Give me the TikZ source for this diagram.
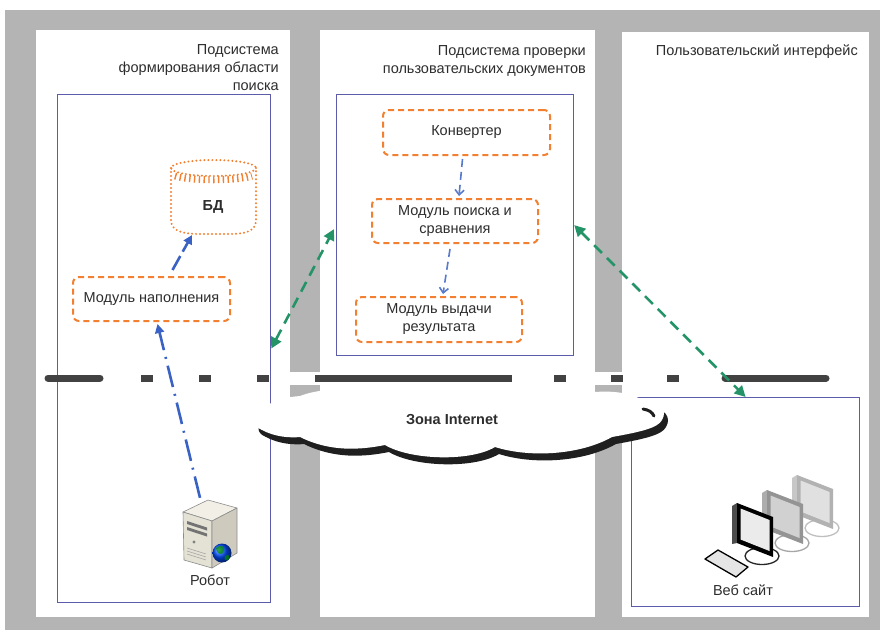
\documentclass[tikz,border=0pt]{standalone}
\usepackage{fontspec}
\setmainfont{Liberation Sans}
\usetikzlibrary{arrows.meta,calc}
\definecolor{bggray}{RGB}{180,180,180}
\definecolor{framebl}{RGB}{92,92,170}
\definecolor{modorange}{RGB}{242,128,48}
\definecolor{arrowblue}{RGB}{58,98,196}
\definecolor{linkgreen}{RGB}{36,148,104}
\definecolor{barcol}{RGB}{66,66,66}
\definecolor{txt}{RGB}{45,45,45}
\definecolor{srvtop}{RGB}{242,240,230}
\definecolor{srvfront}{RGB}{228,226,212}
\definecolor{srvside}{RGB}{206,203,190}

\begin{document}
\begin{tikzpicture}[x=1pt,y=-1pt,
  font=\fontsize{14.5}{18}\selectfont,
  zone/.style={draw=framebl,line width=1.2pt,inner sep=0pt,anchor=north west},
  title/.style={anchor=east,align=right,text=txt,inner sep=0pt},
  modbox/.style={draw=modorange,fill=white,line width=2pt,dash pattern=on 6pt off 4pt,
    rounded corners=6pt,align=center,text=txt,inner sep=2pt},
  flow/.style={arrowblue,line width=2.6pt,-{Triangle[length=9pt,width=9pt]}},
  innerflow/.style={arrowblue!85,line width=1.6pt,dash pattern=on 8pt off 5pt,
    -{Straight Barb[length=5pt,width=9pt]}},
  link/.style={linkgreen,line width=2.6pt,dash pattern=on 11pt off 7pt,
    {Triangle[length=11pt,width=11pt]}-{Triangle[length=11pt,width=11pt]}},
  netbar/.style={barcol,line width=7pt},
  dbdots/.style={modorange,line width=2.2pt,dash pattern=on 0pt off 4pt,line cap=round},
  caption/.style={text=txt,inner sep=1pt}
]
\useasboundingbox (0,0) rectangle (880,630);
\fill[white] (0,0) rectangle (880,630);
\fill[bggray] (5,10) rectangle (880,630);

% three white panels
\fill[white] (36,30) rectangle (290,617);
\fill[white] (320,30) rectangle (595,617);
\fill[white] (622,32) rectangle (869,617);

% white band under the network border line
\draw[white,line width=13pt] (48,378) -- (826,378);

% subsystem frames
\node[zone,minimum width=213pt,minimum height=508pt] (leftbox) at (57,94) {};
\node[zone,minimum width=237pt,minimum height=261pt] (midbox) at (336,94) {};
\node[zone,minimum width=228pt,minimum height=209pt] (rightbox) at (631,397) {};

% panel titles
\node[title] (t1) at (279,68) {Подсистема\\формирования области\\поиска};
\node[title] (t2) at (586,61) {Подсистема проверки\\пользовательских документов};
\node[title] (t3) at (858,52) {Пользовательский интерфейс};

% network border line
\draw[netbar,line cap=round] (48,378) -- (100,378);
\foreach \cx in {147,205,263,560,617,673}
  \draw[netbar] (\cx-6,378) -- (\cx+6,378);
\draw[netbar] (315,378) -- (512,378);
\draw[netbar,line cap=round] (725,378) -- (826,378);

% internet cloud: dark shadow, then white body
\begin{scope}[shift={(4,7)}]
\fill[black!88] (262,430) .. controls (275,437) and (290,438) .. (300,437)
  .. controls (330,452) and (360,450) .. (385,445)
  .. controls (410,460) and (470,462) .. (495,447)
  .. controls (530,458) and (580,455) .. (612,437)
  .. controls (640,432) and (658,428) .. (662,420)
  .. controls (668,410) and (660,400) .. (645,402)
  .. controls (630,390) and (600,390) .. (580,394)
  .. controls (550,385) and (510,386) .. (490,392)
  .. controls (460,384) and (410,385) .. (390,392)
  .. controls (360,386) and (320,388) .. (300,396)
  .. controls (275,398) and (265,405) .. (262,412)
  .. controls (252,418) and (252,426) .. (262,430) -- cycle;
\end{scope}
\fill[white] (262,430) .. controls (275,437) and (290,438) .. (300,437)
  .. controls (330,452) and (360,450) .. (385,445)
  .. controls (410,460) and (470,462) .. (495,447)
  .. controls (530,458) and (580,455) .. (612,437)
  .. controls (640,432) and (658,428) .. (662,420)
  .. controls (668,410) and (660,400) .. (645,402)
  .. controls (630,390) and (600,390) .. (580,394)
  .. controls (550,385) and (510,386) .. (490,392)
  .. controls (460,384) and (410,385) .. (390,392)
  .. controls (360,386) and (320,388) .. (300,396)
  .. controls (275,398) and (265,405) .. (262,412)
  .. controls (252,418) and (252,426) .. (262,430) -- cycle;
\draw[black!88,line width=3pt,line cap=round] (643,409) .. controls (649,410) and (652,412) .. (654,416);
\node[font=\fontsize{14.5}{18}\selectfont\bfseries,text=txt] (inet) at (452,420) {Зона Internet};

% modules
\node[modbox,minimum width=157pt,minimum height=44pt] (mod1) at (151.5,299) {Модуль наполнения};
\node[modbox,minimum width=167pt,minimum height=45pt] (conv) at (466.5,132.5) {Конвертер};
\node[modbox,minimum width=166pt,minimum height=44pt] (search) at (455,221) {Модуль поиска и\\сравнения};
\node[modbox,minimum width=166pt,minimum height=45pt] (out) at (439,319.5) {Модуль выдачи\\результата};

% database cylinder
\draw[dbdots] (171,168) -- (171,220) .. controls (171,232) and (185,234) .. (200,234)
  -- (228,234) .. controls (244,234) and (256,232) .. (256,220) -- (256,168);
\draw[dbdots] (213.5,168) ellipse (42.5 and 8);
\draw[modorange,line width=7pt,dash pattern=on 1.4pt off 3.4pt]
  (175,176) .. controls (190,181) and (237,181) .. (252,176);
\node[font=\fontsize{14.5}{18}\selectfont\bfseries,text=txt] (bd) at (213,207) {БД};

% server
\node[minimum width=56pt,minimum height=68pt,inner sep=0pt] (srv) at (210,534) {};
\begin{scope}[draw=black!45,line width=0.6pt,line join=round]
\filldraw[fill=srvtop] (183,512) -- (208,500) -- (237,508) -- (212,521) -- cycle;
\filldraw[fill=srvfront] (183,512) -- (212,521) -- (212,568) -- (184,560) -- cycle;
\filldraw[fill=srvside] (212,521) -- (237,508) -- (237,553) -- (212,568) -- cycle;
\fill[black!55] (187,521) -- (207,527.5) -- (207,530.5) -- (187,524) -- cycle;
\fill[black!55] (187,527) -- (207,533.5) -- (207,536.5) -- (187,530) -- cycle;
\fill[black!50] (194,542) circle (1.6);
\foreach \gy in {548,551,554}
  \draw[black!35] (187,\gy) -- (206,\gy+6);
\end{scope}
\shade[ball color=blue!70!cyan] (222,553) circle (9.5);
\fill[green!55!black,opacity=0.75] (216,548) .. controls (220,544) and (226,546) .. (224,551)
  .. controls (222,556) and (217,555) .. cycle;
\fill[green!55!black,opacity=0.7] (225,556) .. controls (229,553) and (231,557) .. (228,560)
  .. controls (225,561) and (224,559) .. cycle;
\node[caption] (robotlbl) at (210,580) {Робот};

% workstations, back to front
\foreach \dx/\dy/\fr/\fs/\sc/\st in {60/-28/black!30/black!22/black!12/black!25,
    30/-13/black!42/black!32/black!18/black!35, 0/0/black/black!70/black!8/black!85}{
  \begin{scope}[shift={(\dx,\dy)}]
    \draw[\st,line width=1.3pt] (762,556) ellipse (17 and 8.5);
    \fill[\fs] (737,503) -- (732,506) -- (732,544) -- (737,543) -- cycle;
    \fill[\fr] (737,503) -- (773,517) -- (773,557) -- (737,543) -- cycle;
    \fill[\sc] (740.5,508.5) -- (769.5,520) -- (769.5,551) -- (740.5,539.5) -- cycle;
  \end{scope}
}
\filldraw[fill=black!10,draw=black,line width=1.3pt,line join=round]
  (705,559) -- (718,550) -- (748,567) -- (736,577) -- cycle;
\node[caption] (weblbl) at (743,590) {Веб сайт};

% flows inside the subsystems
\draw[flow,dash pattern=on 16pt off 5pt] ($(mod1.north)+(21,-6)$) -- ($(bd)+(-21,28)$);
\draw[flow,dash pattern=on 22pt off 7pt on 2pt off 7pt] ($(srv.north)+(-10,-2)$) -- ($(mod1.south)+(6,2)$);
\draw[innerflow] ($(conv.south)+(-4,3)$) -- ($(search.north)+(4,-2)$);
\draw[innerflow] ($(search.south)+(-5,5)$) -- ($(out.north)+(4,-2)$);

% links between subsystems
\draw[link] (leftbox.east) -- ($(midbox.west)+(-2,4)$);
\draw[link] (midbox.east) -- (rightbox.north);
\end{tikzpicture}
\end{document}
